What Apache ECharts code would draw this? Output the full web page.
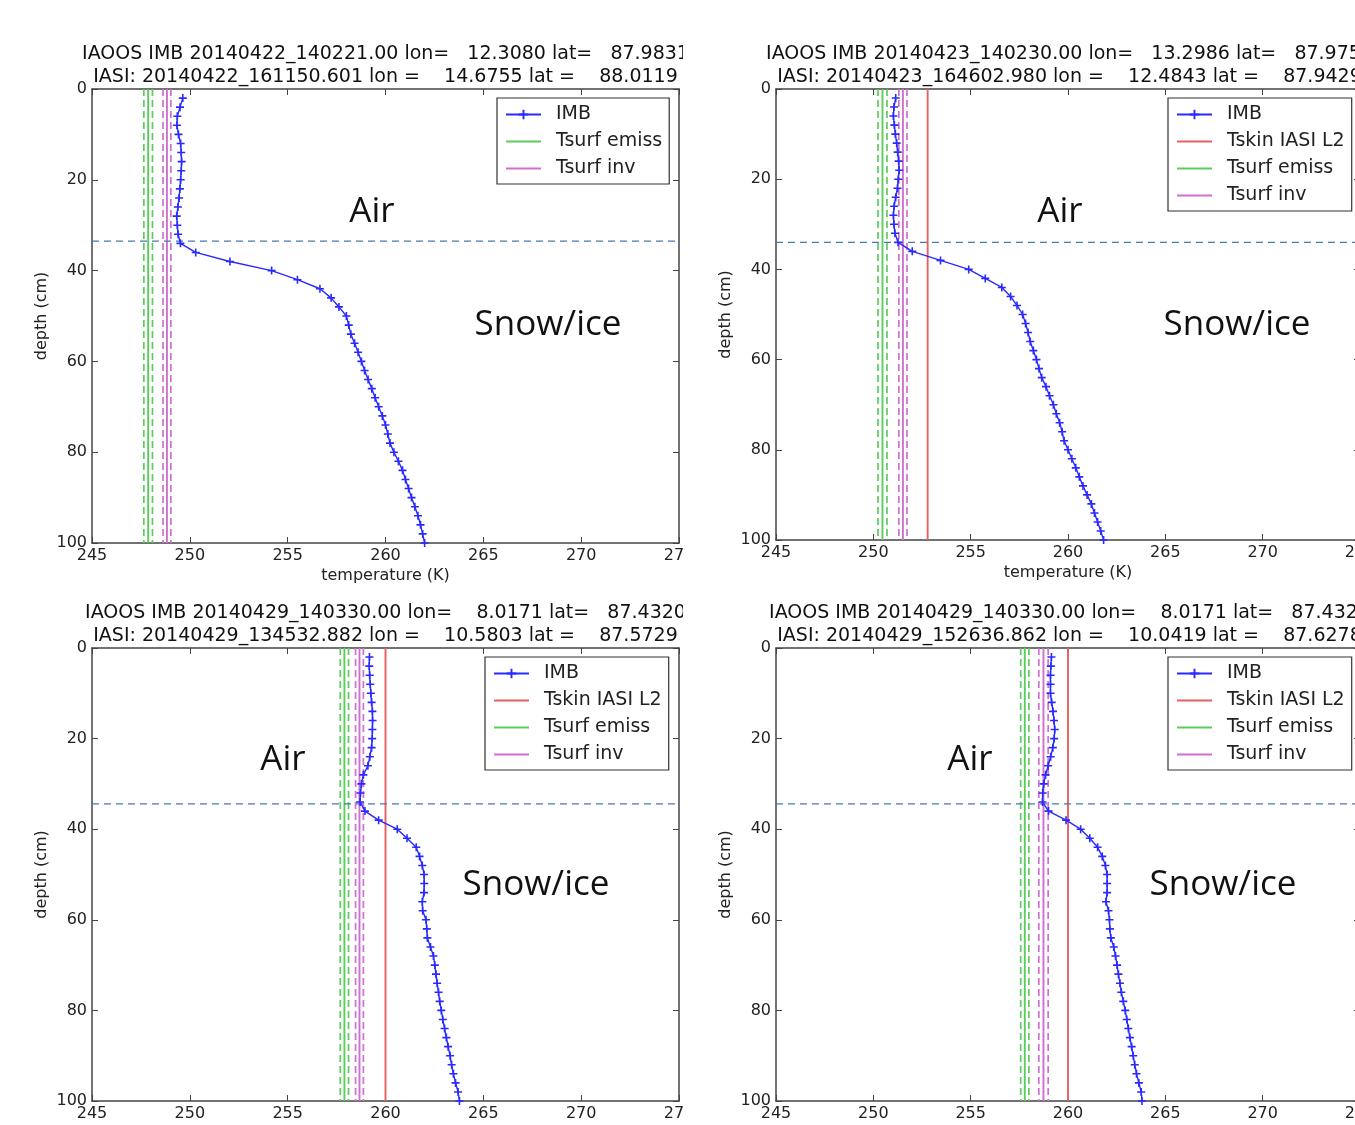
<!DOCTYPE html>
<html>
<head>
<meta charset="utf-8">
<script src="https://cdn.jsdelivr.net/npm/echarts@6/dist/echarts.min.js"></script>
<style>
  html, body { margin: 0; padding: 0; background: #fff; overflow: hidden; }
  #chart { width: 1355px; height: 1125px; }
</style>
</head>
<body>
<div id="chart"></div>
<script>
// thermistor depths (cm), shared by the four IMB profiles
const depths = [2, 4, 6, 8, 10, 12, 14, 16, 18, 20, 22, 24, 26, 28, 30, 32, 34, 36, 38, 40,
  42, 44, 46, 48, 50, 52, 54, 56, 58, 60, 62, 64, 66, 68, 70, 72, 74, 76, 78, 80,
  82, 84, 86, 88, 90, 92, 94, 96, 98, 100]

const imb1 = [249.64, 249.50, 249.36, 249.34, 249.42, 249.53, 249.56, 249.58, 249.56, 249.53,
  249.49, 249.45, 249.39, 249.33, 249.36, 249.40, 249.52, 250.30, 252.05, 254.18,
  255.50, 256.65, 257.22, 257.62, 258.00, 258.12, 258.23, 258.42, 258.60, 258.77,
  258.93, 259.11, 259.30, 259.47, 259.65, 259.84, 260.00, 260.12, 260.23, 260.43,
  260.66, 260.87, 261.02, 261.18, 261.33, 261.50, 261.66, 261.79, 261.90, 262.00]
const imb2 = [251.15, 251.06, 251.03, 251.08, 251.13, 251.20, 251.25, 251.30, 251.33, 251.28,
  251.24, 251.15, 251.07, 251.03, 251.06, 251.11, 251.27, 252.00, 253.45, 254.90,
  255.75, 256.60, 257.05, 257.38, 257.67, 257.82, 257.95, 258.06, 258.22, 258.38,
  258.51, 258.65, 258.87, 259.05, 259.25, 259.40, 259.57, 259.70, 259.80, 260.00,
  260.20, 260.40, 260.58, 260.77, 260.98, 261.20, 261.36, 261.52, 261.68, 261.83]
const imb3 = [259.18, 259.17, 259.19, 259.22, 259.25, 259.29, 259.33, 259.34, 259.33, 259.32,
  259.29, 259.20, 259.10, 258.87, 258.77, 258.72, 258.70, 258.95, 259.65, 260.60,
  261.10, 261.57, 261.74, 261.88, 261.97, 261.98, 261.97, 261.88, 261.90, 262.07,
  262.11, 262.14, 262.30, 262.45, 262.52, 262.58, 262.64, 262.71, 262.77, 262.85,
  262.93, 263.02, 263.11, 263.20, 263.30, 263.38, 263.47, 263.58, 263.71, 263.78]
const imb4 = [259.15, 259.12, 259.10, 259.10, 259.10, 259.16, 259.23, 259.28, 259.32, 259.29,
  259.22, 259.11, 258.98, 258.85, 258.75, 258.70, 258.69, 259.00, 259.90, 260.65,
  261.12, 261.52, 261.76, 261.92, 262.01, 262.01, 262.01, 261.95, 262.08, 262.13,
  262.15, 262.20, 262.35, 262.44, 262.52, 262.59, 262.67, 262.74, 262.84, 262.94,
  263.02, 263.10, 263.18, 263.27, 263.35, 263.43, 263.52, 263.64, 263.76, 263.80]
const imbProfiles = [imb1, imb2, imb3, imb4]

// surface temperatures (K); null = not plotted
const tskinIasi = [null, 252.79, 260.0, 260.0]
const tsurfEmiss = [247.87, 250.47, 257.90, 257.78]
const tsurfEmissErr = [0.22, 0.23, 0.21, 0.21]
const tsurfInv = [248.83, 251.52, 258.67, 258.74]
const tsurfInvErr = [0.20, 0.21, 0.20, 0.24]
const interfaceDepth = [33.5, 34.0, 34.4, 34.4]

const titleImb = [
  'IAOOS IMB 20140422_140221.00 lon=   12.3080 lat=   87.9831',
  'IAOOS IMB 20140423_140230.00 lon=   13.2986 lat=   87.9759',
  'IAOOS IMB 20140429_140330.00 lon=    8.0171 lat=   87.4320',
  'IAOOS IMB 20140429_140330.00 lon=    8.0171 lat=   87.4320'
]
const titleIasi = [
  'IASI: 20140422_161150.601 lon =    14.6755 lat =    88.0119',
  'IASI: 20140423_164602.980 lon =    12.4843 lat =    87.9429',
  'IASI: 20140429_134532.882 lon =    10.5803 lat =    87.5729',
  'IASI: 20140429_152636.862 lon =    10.0419 lat =    87.6278'
]

// panel layout (pixels)
const panels = [
  { left: 92, top: 89, width: 587, height: 454, legend: [497, 98] },
  { left: 776, top: 89, width: 584, height: 451, legend: [1168, 98] },
  { left: 92, top: 648, width: 587, height: 453, legend: [485, 657] },
  { left: 776, top: 648, width: 584, height: 453, legend: [1168, 657] }
]

const font = 'DejaVu Sans'
const txt = '#222'
const frame = '#444'
const cBlue = '#2a2aff'
const cRed = '#e8605f'
const cGreen = '#5ccc5c'
const cMag = '#cf6fcf'
const cIface = '#4a78b0'
const cross = 'path://M4,0H6V4H10V6H6V10H4V6H0V4H4Z'

const chart = echarts.init(document.getElementById('chart'))

const grid = [], xAxis = [], yAxis = [], series = [], legend = [], graphic = []

function vline(name, t, color, dashed, i) {
  return {
    name: name, type: 'line', xAxisIndex: 2 * i, yAxisIndex: 2 * i,
    data: [[t, 0], [t, 100]], symbol: 'none', silent: true,
    lineStyle: { color: color, width: dashed ? 1.7 : 1.9, type: dashed ? [7, 4] : 'solid' },
    itemStyle: { color: color }
  }
}

panels.forEach((p, i) => {
  grid.push({ left: p.left, top: p.top, width: p.width, height: p.height, show: false, outerBoundsMode: 'none', containLabel: false })
  const tick = { show: true, inside: true, length: 6, lineStyle: { color: frame, width: 1 } }
  const line = { show: true, onZero: false, lineStyle: { color: frame, width: 1.5 } }
  xAxis.push({
    type: 'value', gridIndex: i, position: 'bottom', min: 245, max: 275, interval: 5,
    axisLine: line, axisTick: tick, splitLine: { show: false },
    axisLabel: { color: txt, fontSize: 16, fontFamily: font, margin: 5 },
    name: 'temperature (K)', nameLocation: 'middle', nameGap: 25,
    nameTextStyle: { color: txt, fontSize: 16, fontFamily: font }
  })
  xAxis.push({
    type: 'value', gridIndex: i, position: 'top', min: 245, max: 275, interval: 5,
    axisLine: line, axisTick: tick, splitLine: { show: false }, axisLabel: { show: false }
  })
  yAxis.push({
    type: 'value', gridIndex: i, position: 'left', min: 0, max: 100, interval: 20, inverse: true,
    axisLine: line, axisTick: tick, splitLine: { show: false },
    axisLabel: { color: txt, fontSize: 16, fontFamily: font, margin: 5 },
    name: 'depth (cm)', nameLocation: 'middle', nameGap: 42, nameRotate: 90,
    nameTextStyle: { color: txt, fontSize: 16, fontFamily: font }
  })
  yAxis.push({
    type: 'value', gridIndex: i, position: 'right', min: 0, max: 100, interval: 20, inverse: true,
    axisLine: line, axisTick: tick, splitLine: { show: false }, axisLabel: { show: false }
  })

  const names = ['IMB']
  const noDot = { opacity: 0 }
  series.push({
    name: 'IMB', type: 'line', xAxisIndex: 2 * i, yAxisIndex: 2 * i,
    data: depths.map((d, k) => [imbProfiles[i][k], d]),
    symbol: cross, symbolSize: 8, showSymbol: true, silent: true,
    lineStyle: { color: cBlue, width: 1.4 }, itemStyle: { color: cBlue }, z: 5
  })
  if (tskinIasi[i] !== null) {
    series.push(vline('Tskin IASI L2', tskinIasi[i], cRed, false, i))
    names.push({ name: 'Tskin IASI L2', itemStyle: noDot })
  }
  series.push(vline('Tsurf emiss', tsurfEmiss[i], cGreen, false, i))
  series.push(vline('emiss-', tsurfEmiss[i] - tsurfEmissErr[i], cGreen, true, i))
  series.push(vline('emiss+', tsurfEmiss[i] + tsurfEmissErr[i], cGreen, true, i))
  series.push(vline('Tsurf inv', tsurfInv[i], cMag, false, i))
  series.push(vline('inv-', tsurfInv[i] - tsurfInvErr[i], cMag, true, i))
  series.push(vline('inv+', tsurfInv[i] + tsurfInvErr[i], cMag, true, i))
  names.push({ name: 'Tsurf emiss', itemStyle: noDot }, { name: 'Tsurf inv', itemStyle: noDot })
  series.push({
    name: 'interface', type: 'line', xAxisIndex: 2 * i, yAxisIndex: 2 * i,
    data: [[245, interfaceDepth[i]], [275, interfaceDepth[i]]], symbol: 'none', silent: true,
    lineStyle: { color: cIface, width: 1.3, type: [7, 5] }
  })

  legend.push({
    data: names, orient: 'vertical', left: p.legend[0], top: p.legend[1],
    itemWidth: 35, itemHeight: 12, itemGap: 8, padding: [7, 7, 6, 8],
    borderColor: '#333', borderWidth: 1.2, backgroundColor: '#fff', selectedMode: false,
    textStyle: { color: txt, fontSize: 19, fontFamily: font, padding: [0, 0, 0, 10] }
  })

  const cx = p.left + 293.5
  graphic.push({
    type: 'text', x: cx, y: p.top - 35, z: 50,
    style: { text: titleImb[i], font: '19px "DejaVu Sans"', fill: '#111', textAlign: 'center', textVerticalAlign: 'middle' }
  })
  graphic.push({
    type: 'text', x: cx, y: p.top - 12, z: 50,
    style: { text: titleIasi[i], font: '19px "DejaVu Sans"', fill: '#111', textAlign: 'center', textVerticalAlign: 'middle' }
  })
})

// region labels
const regionLabels = [
  ['Air', 372, 212], ['Snow/ice', 548, 325],
  ['Air', 1060, 212], ['Snow/ice', 1237, 325],
  ['Air', 283, 760], ['Snow/ice', 536, 885],
  ['Air', 970, 760], ['Snow/ice', 1223, 885]
]
regionLabels.forEach(r => {
  graphic.push({
    type: 'text', x: r[1], y: r[2], z: 50,
    style: { text: r[0], font: '35px "Open Sans"', fill: '#111', textAlign: 'center', textVerticalAlign: 'middle' }
  })
})

// the left panels were cropped on their right side
graphic.push({ type: 'rect', shape: { x: 683, y: 0, width: 28, height: 1125 }, style: { fill: '#fff' }, z: 100 })

chart.setOption({
  animation: false,
  backgroundColor: '#fff',
  grid: grid,
  xAxis: xAxis,
  yAxis: yAxis,
  legend: legend,
  series: series,
  graphic: graphic
})
</script>
</body>
</html>
